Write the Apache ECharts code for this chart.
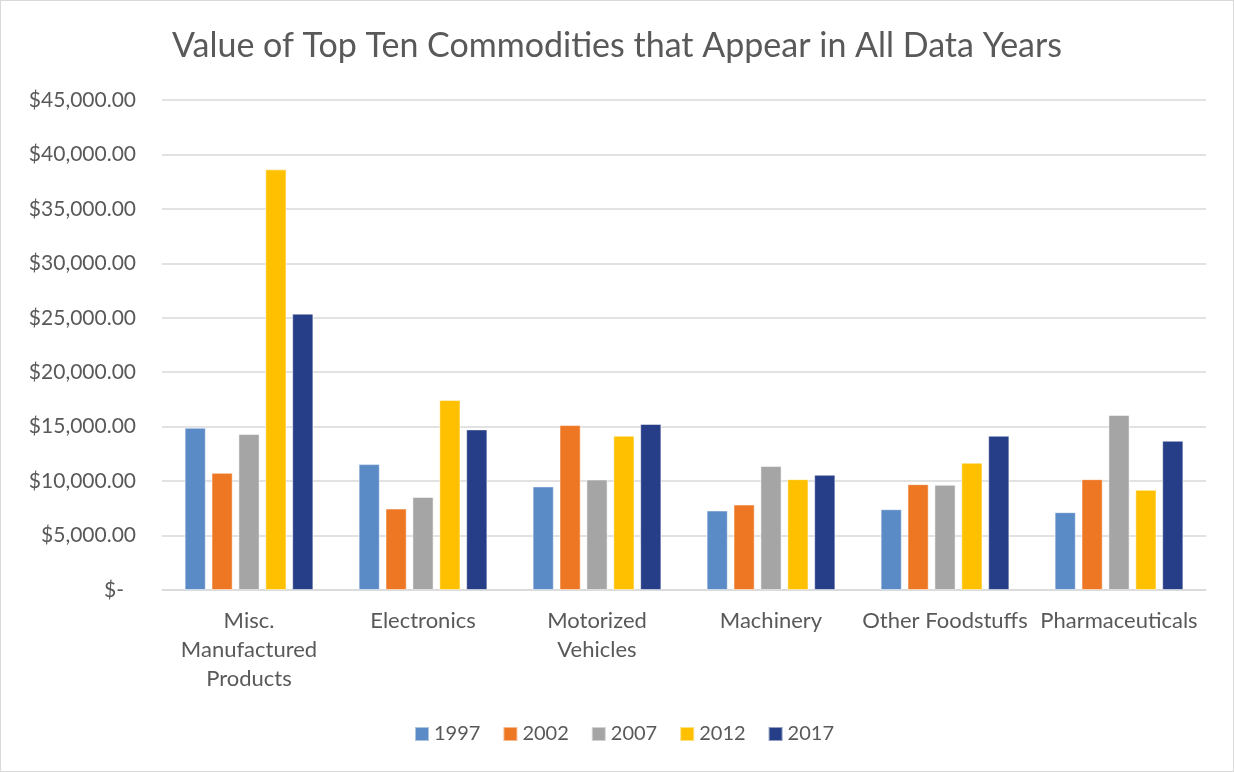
<!DOCTYPE html>
<html>
<head>
<meta charset="utf-8">
<script src="https://cdn.jsdelivr.net/npm/echarts@6/dist/echarts.min.js"></script>
<style>
  html, body { margin: 0; padding: 0; background: #fff; }
  #frame { width: 1234px; height: 772px; box-sizing: border-box; border: 1px solid #d9d9d9; }
  #chart { width: 100%; height: 100%; }
</style>
</head>
<body>
<div id="frame"><div id="chart"></div></div>
<script>
// Commodity groups on the x axis
const categories = [
  'Misc.\nManufactured\nProducts',
  'Electronics',
  'Motorized\nVehicles',
  'Machinery',
  'Other Foodstuffs',
  'Pharmaceuticals'
];

// Data years (one series each)
const years = ['1997', '2002', '2007', '2012', '2017'];

// Value per commodity, one array per year
const v1997 = [14900, 11560, 9510, 7300, 7420, 7150];
const v2002 = [10760, 7480, 15150, 7850, 9720, 10180];
const v2007 = [14320, 8550, 10150, 11380, 9660, 16070];
const v2012 = [38630, 17440, 14170, 10180, 11690, 9200];
const v2017 = [25380, 14750, 15250, 10580, 14170, 13710];

const yearValues = [v1997, v2002, v2007, v2012, v2017];
const colors = ['#5B8BC7', '#EE7724', '#A5A5A5', '#FFC000', '#263D87'];

const FONT = 'Lato, "Open Sans", sans-serif';
const TEXT = '#595959';

function money(v) {
  if (v === 0) return '{dash|$-}';
  return '$' + v.toLocaleString('en-US', { minimumFractionDigits: 2, maximumFractionDigits: 2 });
}

const chart = echarts.init(document.getElementById('chart'), null, { renderer: 'canvas' });

chart.setOption({
  animation: false,
  color: colors,
  title: {
    text: 'Value of Top Ten Commodities that Appear in All Data Years',
    left: 'center',
    top: 23,
    textStyle: { fontFamily: FONT, fontSize: 34, fontWeight: 400, color: TEXT }
  },
  legend: {
    data: years,
    bottom: 22,
    left: 408,
    icon: 'rect',
    itemWidth: 14,
    itemHeight: 14,
    itemGap: 22,
    textStyle: { fontFamily: FONT, fontSize: 20, color: TEXT }
  },
  grid: { left: 161, right: 27, top: 99, bottom: 181, containLabel: false },
  xAxis: {
    type: 'category',
    data: categories,
    axisLine: { lineStyle: { color: '#d9d9d9', width: 1.5 } },
    axisTick: { show: false },
    axisLabel: {
      interval: 0,
      margin: 16,
      fontFamily: FONT,
      fontSize: 22,
      lineHeight: 29,
      color: TEXT
    }
  },
  yAxis: {
    type: 'value',
    min: 0,
    max: 45000,
    interval: 5000,
    axisLine: { show: false },
    axisTick: { show: false },
    splitLine: { lineStyle: { color: '#d9d9d9', width: 1.5 } },
    axisLabel: {
      margin: 26,
      fontFamily: FONT,
      fontSize: 21,
      color: TEXT,
      formatter: money,
      rich: {
        dash: { fontFamily: FONT, fontSize: 21, color: TEXT, padding: [0, 12, 0, 0] }
      }
    }
  },
  series: years.map((y, i) => ({
    name: y,
    type: 'bar',
    data: yearValues[i],
    barGap: '27%',
    barCategoryGap: '26%',
    itemStyle: { borderColor: 'rgba(255,255,255,0.5)', borderWidth: 1 }
  }))
});
</script>
</body>
</html>
